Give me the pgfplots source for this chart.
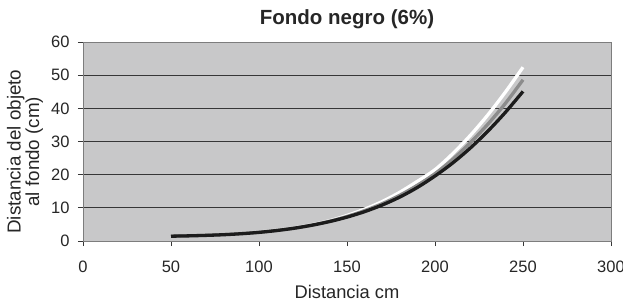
\documentclass[border=0pt]{standalone}
\usepackage{pgfplots}
\pgfplotsset{compat=1.18}
\usepackage{fontspec}
\setmainfont{Liberation Sans}
\definecolor{bg}{RGB}{200,200,201}
\definecolor{frame}{RGB}{125,125,125}
\definecolor{gridc}{RGB}{55,55,55}
\definecolor{curvegrey}{RGB}{140,140,140}
\definecolor{curveblack}{RGB}{28,28,28}
\begin{document}
\begin{tikzpicture}
\begin{axis}[
  at={(0,0)}, anchor=south west,
  width=528pt, height=199pt, scale only axis,
  xmin=0, xmax=300, ymin=0, ymax=60,
  xtick={0,50,...,300}, ytick={0,10,...,60},
  axis background/.style={fill=bg},
  axis line style={draw=frame, line width=0.9pt},
  ymajorgrids, grid style={draw=gridc, line width=0.9pt},
  tick style={draw=gridc, line width=0.8pt},
  major tick length=5pt, tick align=outside,
  xtick pos=bottom, ytick pos=left,
  /pgf/number format/assume math mode=true,
  ticklabel style={font=\fontsize{16.5}{18}\selectfont, text=black!85},
  yticklabel style={xshift=-5pt},
  xticklabel style={yshift=-11pt},
  title={Fondo negro (6\%)},
  title style={at={(rel axis cs:0.5,1)}, anchor=center, yshift=17pt, font=\bfseries\fontsize{20.5}{22}\selectfont, text=black!85},
  xlabel={Distancia cm},
  xlabel style={at={(rel axis cs:0.5,0)}, anchor=center, yshift=-51pt, font=\fontsize{18.3}{19}\selectfont, text=black!85},
  ylabel={Distancia del objeto\\al fondo (cm)},
  ylabel style={at={(rel axis cs:0,0.449)}, anchor=center, yshift=58pt, align=center, font=\fontsize{18.8}{16.7}\selectfont, text=black!85},
]
\addplot[white, line width=3.3pt, smooth] coordinates {
(50,1.5) (60,1.6) (70,1.75) (80,1.95) (90,2.25) (100,2.7) (110,3.25) (120,3.95) (130,4.9) (140,6.1) (150,7.7) (160,9.6) (170,11.9) (180,14.7) (190,18.0) (200,21.5) (210,26.3) (220,31.8) (230,38.0) (240,44.9) (250,52.4)
};
\addplot[curvegrey, line width=3.3pt, smooth] coordinates {
(50,1.5) (60,1.6) (70,1.75) (80,1.95) (90,2.25) (100,2.65) (110,3.2) (120,3.9) (130,4.8) (140,5.95) (150,7.4) (160,9.15) (170,11.25) (180,13.8) (190,16.8) (200,20.3) (210,24.6) (220,29.6) (230,35.2) (240,41.5) (250,48.6)
};
\addplot[curveblack, line width=3.3pt, smooth] coordinates {
(50,1.45) (60,1.55) (70,1.7) (80,1.9) (90,2.2) (100,2.6) (110,3.15) (120,3.85) (130,4.75) (140,5.85) (150,7.2) (160,8.85) (170,10.85) (180,13.25) (190,16.15) (200,19.6) (210,23.5) (220,28.0) (230,33.1) (240,38.8) (250,45.1)
};
\end{axis}
\pgfresetboundingbox
\useasboundingbox (-83pt,-62pt) rectangle (540pt,241pt);
\end{tikzpicture}
\end{document}
